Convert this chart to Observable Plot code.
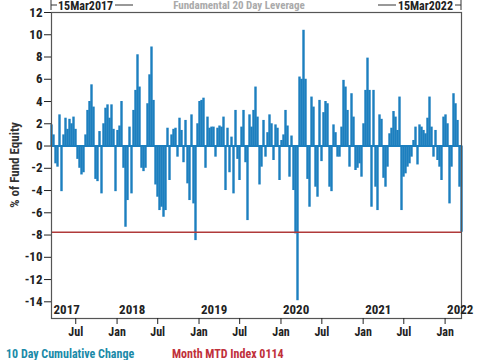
<!DOCTYPE html>
<html>
<head>
<meta charset="utf-8">
<script src="https://cdn.jsdelivr.net/npm/d3@7"></script>
<script src="https://cdn.jsdelivr.net/npm/@observablehq/plot@0.6"></script>
<style>
  html, body { margin: 0; padding: 0; background: white; }
  #chart { width: 480px; height: 360px; overflow: hidden; }
</style>
</head>
<body>
<div id="chart"></div>
<script>
// ---- data ----
const startDate = "2017-03-15";
const endDate = "2022-03-15";
const values = [
  // 2017-03 .. 2018-01
  1.9, 1.0, -1.6, -1.9, 2.8, -4.1, 1.0, 2.5, 1.5, 2.4, 2.0, 2.6, 1.5, -1.2, -2.0, -2.6, -2.4, 1.0, 3.2, 4.0,
  5.5, 3.5, -3.0, -3.2, 1.3, -4.3, 2.0, 3.4, 3.7, 2.5, 3.7, 1.5, -4.1, 1.4, 1.8, 4.0, -2.0, -7.3, -4.9, 1.7, -4.3,
  // 2018
  3.2, 5.0, 8.2, 5.3, -2.0, -2.3, -2.0, 3.8, 6.4, 8.9, 4.1, -3.5, -4.6, -5.8, -5.5, -6.4, -5.8, 1.6, -3.1, 1.0,
  1.5, 1.6, -1.0, 2.5, 1.4, -1.5, 2.3, -3.4, -4.9, 2.8, -5.2, -8.5, 2.0, 4.0, 4.1, 4.3, -2.0, 2.6, 1.6, 1.7,
  // 2019
  1.7, -1.0, 1.6, 1.8, 1.7, 2.6, -4.0, 1.6, -2.4, 0.8, -4.3, 3.2, -1.2, -3.1, 1.7, 3.2, -1.5, -6.7, 2.8, 1.7,
  3.2, 5.3, 2.6, -3.5, -1.9, 2.3, -1.0, 1.2, 2.8, 2.0, -1.3, 1.9, 1.6, -3.1, 0.5, 1.0, 3.2, 1.8, -2.8, 0.9,
  // 2020
  -4.0, -7.9, -13.9, 6.2, 6.0, 10.4, 6.0, -3.0, -5.5, 4.4, 3.5, -3.7, -4.6, 4.1, -1.4, 3.0, 4.0, 3.8, -3.7, -4.1,
  1.9, 1.2, -1.0, -1.0, 1.7, 5.9, 5.3, 3.2, -1.9, 4.7, 2.6, -2.2, -2.0, -1.6, -2.8, 2.0, 5.0, 7.9, 5.0, -5.5,
  // 2021 .. 2022-03
  5.0, -3.7, -5.8, 2.8, 2.4, -2.9, -3.7, -1.9, 1.1, 1.6, 3.1, 2.6, 1.4, 4.4, -5.8, -2.8, -2.5, -1.9, -1.6, -1.0,
  0.5, 1.7, -1.7, 1.9, 1.7, 1.4, 1.1, 2.5, 4.4, 1.7, -1.0, 1.4, -1.3, -1.9, -3.1, 2.6, 2.8, 2.0, -5.2, -1.9,
  4.7, 3.8, 2.3, -3.7, -7.75
];
const currentLevel = -7.75;
const yTicks = [12, 10, 8, 6, 4, 2, 0, -2, -4, -6, -8, -10, -12, -14];
const xTickDates = ["2017-07-01","2018-01-01","2018-07-01","2019-01-01","2019-07-01","2020-01-01",
                    "2020-07-01","2021-01-01","2021-07-01","2022-01-01"];
const xTickLabels = ["Jul","Jan","Jul","Jan","Jul","Jan","Jul","Jan","Jul","Jan"];
const yearLabelDates = ["2017-03-15","2018-01-01","2019-01-01","2020-01-01","2021-01-01","2022-01-01"];
const yearLabels = ["2017","2018","2019","2020","2021","2022"];
const titleText = "Fundamental 20 Day Leverage";
const yLabel = "% of Fund Equity";
const footerSeries = "10 Day Cumulative Change";
const footerLimit = "Month MTD Index 0114";

// ---- build ----
const t0 = new Date(startDate), t1 = new Date(endDate);
const data = values.map((v, i) => ({
  date: new Date(+t0 + i * (t1 - t0) / (values.length - 1)),
  value: v
}));
const xTicks = xTickDates.map((d, i) => ({date: new Date(d), label: xTickLabels[i]}));
const years = yearLabelDates.map((d, i) => ({date: new Date(d), label: yearLabels[i]}));

const blue = "#1c7fbf";
const font = "'Roboto Condensed','Liberation Sans Narrow','DejaVu Sans Condensed','Noto Sans',sans-serif";

const chart = Plot.plot({
  width: 480,
  height: 360,
  marginLeft: 51,
  marginRight: 19,
  marginTop: 12,
  marginBottom: 42,
  style: {fontFamily: font, fontSize: "12px", fontWeight: "bold", color: "#222", background: "white"},
  x: {type: "utc", domain: [t0, t1]},
  y: {domain: [-15.5, 12]},
  marks: [
    Plot.ruleY([0], {stroke: blue, strokeWidth: 2}),
    Plot.ruleX(data, {x: "date", y1: 0, y2: "value", stroke: blue, strokeWidth: 2.4}),
    Plot.ruleY([currentLevel], {stroke: "#b03a3a", strokeWidth: 1.5}),
    Plot.frame({stroke: "#555", strokeWidth: 1.2}),
    Plot.axisY({ticks: yTicks, tickSize: 7, tickPadding: 2, tickFormat: d => String(d), label: null, fontSize: 13}),
    Plot.axisX(xTicks.map(d => d.date), {tickSize: 6, tickPadding: 3,
      tickFormat: d => xTicks.find(t => +t.date === +d).label, label: null, fontSize: 12}),
    Plot.text(years, {x: "date", text: "label", frameAnchor: "bottom", textAnchor: "start",
      dy: -5, dx: 2, fontSize: 13, fill: "#222"})
  ]
});

document.getElementById("chart").appendChild(chart);

// decorations: top bracket labels, title, y label, footer
const svg = d3.select(chart);
const xs = chart.scale("x");
const xa = xs.apply(t0), xb = xs.apply(t1);
const g = svg.append("g").attr("font-family", font).attr("font-weight", "bold").attr("text-anchor", "start");
g.append("line").attr("x1", xa).attr("x2", xa).attr("y1", 0).attr("y2", 10).attr("stroke", "#333");
g.append("line").attr("x1", xa).attr("x2", xa + 6).attr("y1", 5).attr("y2", 5).attr("stroke", "#333");
g.append("text").attr("x", xa + 7).attr("y", 10).attr("font-size", 12).attr("fill", "#222")
  .attr("text-anchor", "start").text("15Mar2017");
g.append("line").attr("x1", xa + 64).attr("x2", xa + 82).attr("y1", 5).attr("y2", 5).attr("stroke", "#333");
g.append("line").attr("x1", xb).attr("x2", xb).attr("y1", 0).attr("y2", 10).attr("stroke", "#333");
g.append("line").attr("x1", xb).attr("x2", xb - 6).attr("y1", 5).attr("y2", 5).attr("stroke", "#333");
g.append("text").attr("x", xb - 8).attr("y", 10).attr("font-size", 12).attr("fill", "#222")
  .attr("text-anchor", "end").text("15Mar2022");
g.append("line").attr("x1", xb - 65).attr("x2", xb - 83).attr("y1", 5).attr("y2", 5).attr("stroke", "#333");
g.append("text").attr("x", 239).attr("y", 9).attr("font-size", 11).attr("fill", "#aaa")
  .attr("text-anchor", "middle").text(titleText);
g.append("text").attr("transform", "translate(19,165) rotate(-90)").attr("text-anchor", "middle")
  .attr("font-size", 13).attr("fill", "#333").text(yLabel);
g.append("text").attr("x", 6).attr("y", 358).attr("font-size", 12).attr("fill", "#1a8aa8")
  .attr("text-anchor", "start").text(footerSeries);
g.append("text").attr("x", 172).attr("y", 358).attr("font-size", 12).attr("fill", "#c0303a")
  .attr("text-anchor", "start").text(footerLimit);
</script>
</body>
</html>
